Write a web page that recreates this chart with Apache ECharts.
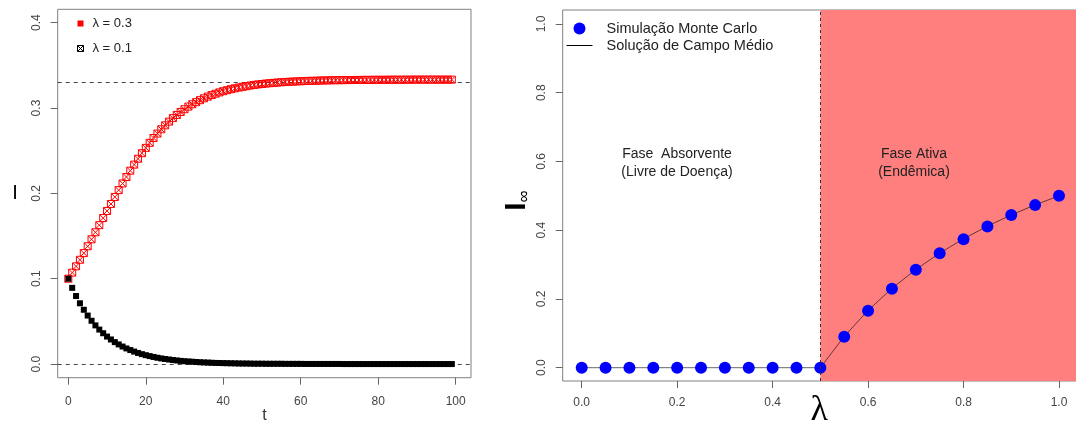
<!DOCTYPE html>
<html>
<head>
<meta charset="utf-8">
<script src="https://cdn.jsdelivr.net/npm/echarts@6/dist/echarts.min.js"></script>
<style>html,body{margin:0;padding:0;background:#fff}#c{width:1076px;height:427px}</style>
</head>
<body>
<div id="c"></div>
<script>
// ---- Left panel data ----
const tValues = [0,1,2,3,4,5,6,7,8,9,10,11,12,13,14,15,16,17,18,19,20,21,22,23,24,25,26,27,28,29,30,31,32,33,34,35,36,37,38,39,40,41,42,43,44,45,46,47,48,49,50,51,52,53,54,55,56,57,58,59,60,61,62,63,64,65,66,67,68,69,70,71,72,73,74,75,76,77,78,79,80,81,82,83,84,85,86,87,88,89,90,91,92,93,94,95,96,97,98,99];
const infected03 = [
0.1000,0.1071,0.1145,0.1222,0.1300,0.1380,0.1462,0.1544,0.1627,0.1711,
0.1794,0.1876,0.1958,0.2038,0.2116,0.2192,0.2266,0.2337,0.2406,0.2471,
0.2533,0.2592,0.2649,0.2701,0.2751,0.2797,0.2841,0.2882,0.2919,0.2954,
0.2986,0.3017,0.3044,0.3069,0.3092,0.3114,0.3134,0.3152,0.3168,0.3183,
0.3197,0.3209,0.3221,0.3231,0.3240,0.3249,0.3256,0.3264,0.3271,0.3277,
0.3282,0.3287,0.3291,0.3295,0.3299,0.3302,0.3305,0.3308,0.3310,0.3312,
0.3314,0.3316,0.3318,0.3319,0.3320,0.3322,0.3323,0.3324,0.3325,0.3326,
0.3326,0.3327,0.3328,0.3328,0.3329,0.3329,0.3330,0.3330,0.3330,0.3331,
0.3331,0.3331,0.3331,0.3332,0.3332,0.3332,0.3332,0.3332,0.3332,0.3333,
0.3333,0.3333,0.3333,0.3333,0.3333,0.3333,0.3333,0.3333,0.3333,0.3333];
const infected01 = [
0.1000,0.0893,0.0797,0.0712,0.0636,0.0568,0.0507,0.0453,0.0404,0.0361,
0.0322,0.0288,0.0257,0.0230,0.0205,0.0183,0.0164,0.0146,0.0130,0.0116,
0.0104,0.0093,0.0083,0.0074,0.0066,0.0059,0.0053,0.0047,0.0042,0.0037,
0.0033,0.0030,0.0027,0.0024,0.0021,0.0019,0.0017,0.0015,0.0013,0.0012,
0.0011,0.0010,0.0009,0.0008,0.0007,0.0006,0.0006,0.0005,0.0004,0.0004,
0.0004,0.0003,0.0003,0.0003,0.0003,0.0003,0.0002,0.0002,0.0002,0.0002,
0.0002,0.0001,0.0001,0.0001,0.0001,0.0001,0.0001,0.0001,0.0001,0.0001,
0.0001,0,0,0,0,0,0,0,0,0,
0,0,0,0,0,0,0,0,0,0,
0,0,0,0,0,0,0,0,0,0];
const steadyLevels = [0.3333, 0];
const leftXTicks = [0,20,40,60,80,100];
const leftYTicks = [0,0.1,0.2,0.3,0.4];

// ---- Right panel data ----
const lambdas = [0,0.05,0.1,0.15,0.2,0.25,0.3,0.35,0.4,0.45,0.5,0.55,0.6,0.65,0.7,0.75,0.8,0.85,0.9,0.95,1.0];
const monteCarlo = [0,0,0,0,0,0,0,0,0,0,0,0.090,0.166,0.230,0.285,0.333,0.374,0.411,0.444,0.473,0.500];
const meanField  = [0,0,0,0,0,0,0,0,0,0,0,0.0909,0.1667,0.2308,0.2857,0.3333,0.3750,0.4118,0.4444,0.4737,0.5000];
const criticalLambda = 0.5;
const rightXTicks = [0,0.2,0.4,0.6,0.8,1.0];
const rightYTicks = [0,0.2,0.4,0.6,0.8,1.0];

const FONT = 'Liberation Sans';
const tickLabel = {fontFamily: FONT, fontSize: 12, color: '#444'};
const sqX = 'path://M0 0H10V10H0Z M0 0L10 10 M10 0L0 10';
const lineIcon = 'path://M0 0H0.01M0 6H26M0 12H0.01';

function axis(grid, min, max, ticks, margin, rotate, digits) {
  return {gridIndex: grid, type: 'value', min: min, max: max,
    axisLine: {show: false, onZero: false}, splitLine: {show: false},
    nameMoveOverlap: false,
    axisTick: {show: true, customValues: ticks, length: 7, lineStyle: {color: '#666'}},
    axisLabel: Object.assign({customValues: ticks, margin: margin, rotate: rotate,
      hideOverlap: false, showMinLabel: true, showMaxLabel: true,
      formatter: v => (digits ? v.toFixed(digits) : String(v))}, tickLabel)};
}

const xL = axis(0, -2.74, 103.95, leftXTicks, 17.5, 0, 0);
Object.assign(xL, {name: 't', nameLocation: 'middle', nameGap: 30,
  nameTextStyle: {fontFamily: FONT, fontSize: 16, color: '#333'}});
const yL = axis(0, -0.016, 0.4157, leftYTicks, 15, 90, 1);
Object.assign(yL, {name: 'I', nameLocation: 'middle', nameGap: 40, nameRotate: 0,
  nameTextStyle: {fontFamily: FONT, fontSize: 20, color: '#000'}});
const xR = axis(1, -0.0398, 1.0356, rightXTicks, 16, 0, 1);
Object.assign(xR, {name: 'λ', nameLocation: 'middle', nameGap: 12,
  nameTextStyle: {fontFamily: 'Liberation Serif', fontSize: 36, color: '#000'}});
const yR = axis(1, -0.0387, 1.0407, rightYTicks, 15, 90, 1);
Object.assign(yR, {name: '{a|I}{b|∞}', nameLocation: 'middle', nameGap: 30, nameRotate: 90,
  nameTextStyle: {padding: [0, 10, 0, 0], rich: {
    a: {fontFamily: FONT, fontSize: 30, color: '#000', fontWeight: 'bold'},
    b: {fontFamily: FONT, fontSize: 17, color: '#000', padding: [14, 0, 0, 0]}
  }}});

const gridBase = {outerBoundsMode: 'none', containLabel: false, show: true,
  borderColor: '#808080', borderWidth: 1, backgroundColor: 'transparent'};
const chart = echarts.init(document.getElementById('c'), null, {renderer: 'canvas'});
chart.setOption({
  animation: false,
  backgroundColor: '#fff',
  textStyle: {fontFamily: FONT},
  grid: [
    Object.assign({left: 57.7, top: 9.3, width: 413.3, height: 368.4}, gridBase),
    Object.assign({left: 562.7, top: 10, width: 513.3, height: 371}, gridBase)
  ],
  xAxis: [xL, xR],
  yAxis: [yL, yR],
  legend: [
    {left: 77, top: 17, padding: 0, orient: 'vertical', itemWidth: 6, itemHeight: 6, itemGap: 12,
     textStyle: {fontFamily: FONT, fontSize: 13, color: '#222', padding: [0, 0, 0, 4]},
     data: [
       {name: 'λ = 0.3', icon: 'rect', itemStyle: {color: '#ff0000', borderWidth: 0, opacity: 1}},
       {name: 'λ = 0.1', icon: sqX, itemStyle: {color: 'rgba(255,255,255,0)', borderColor: '#000', borderWidth: 1, opacity: 1}}
     ]},
    {left: 566, top: 21, padding: 0, orient: 'vertical', itemWidth: 26, itemHeight: 12, itemGap: 2,
     textStyle: {fontFamily: FONT, fontSize: 14.5, color: '#222', padding: [0, 0, 0, 9]},
     data: [
       {name: 'Simulação Monte Carlo', icon: 'circle', itemStyle: {color: '#0000ff', opacity: 1}},
       {name: 'Solução de Campo Médio', icon: lineIcon, itemStyle: {color: 'rgba(0,0,0,0)', borderColor: '#000', borderWidth: 1}}
     ]}
  ],
  series: [
    {name: 'λ = 0.3', type: 'scatter', xAxisIndex: 0, yAxisIndex: 0, z: 3, clip: false,
     symbol: sqX, symbolSize: 7,
     itemStyle: {color: 'rgba(255,255,255,0)', borderColor: '#ff0000', borderWidth: 1, opacity: 1},
     data: tValues.map((t, i) => [t, infected03[i]]),
     markLine: {silent: true, symbol: 'none', label: {show: false}, z: 1,
       lineStyle: {color: '#444', type: [4, 4], width: 1},
       data: steadyLevels.map(v => ({yAxis: v}))}},
    {name: 'λ = 0.1', type: 'scatter', xAxisIndex: 0, yAxisIndex: 0, z: 4, clip: false,
     symbol: 'rect', symbolSize: 6,
     itemStyle: {color: '#000', opacity: 1},
     data: tValues.map((t, i) => [t, infected01[i]])},
    {name: 'fase', type: 'line', xAxisIndex: 1, yAxisIndex: 1, z: 1, data: [],
     markArea: {silent: true, itemStyle: {color: '#ff7f7f', opacity: 1},
       data: [[{xAxis: criticalLambda}, {xAxis: 1.0356}]]},
     markLine: {silent: true, symbol: 'none', label: {show: false},
       lineStyle: {color: '#333', type: [3, 3], width: 1},
       data: [{xAxis: criticalLambda}]}},
    {name: 'Solução de Campo Médio', type: 'line', xAxisIndex: 1, yAxisIndex: 1, z: 2, clip: false,
     showSymbol: false, symbol: 'none',
     lineStyle: {color: 'rgba(0,0,0,0.6)', width: 1},
     itemStyle: {color: '#000'},
     data: lambdas.map((l, i) => [l, meanField[i]])},
    {name: 'Simulação Monte Carlo', type: 'scatter', xAxisIndex: 1, yAxisIndex: 1, z: 3, clip: false,
     symbol: 'circle', symbolSize: 12,
     itemStyle: {color: '#0000ff', opacity: 1},
     data: lambdas.map((l, i) => [l, monteCarlo[i]])}
  ],
  graphic: [
    {type: 'text', x: 677, y: 163, z: 10,
     style: {text: 'Fase  Absorvente\n(Livre de Doença)', fontFamily: FONT, fontSize: 14, fill: '#222',
       align: 'center', verticalAlign: 'middle', lineHeight: 18}},
    {type: 'text', x: 914, y: 163, z: 10,
     style: {text: 'Fase Ativa\n(Endêmica)', fontFamily: FONT, fontSize: 14, fill: '#222',
       align: 'center', verticalAlign: 'middle', lineHeight: 18}}
  ]
});
</script>
</body>
</html>
